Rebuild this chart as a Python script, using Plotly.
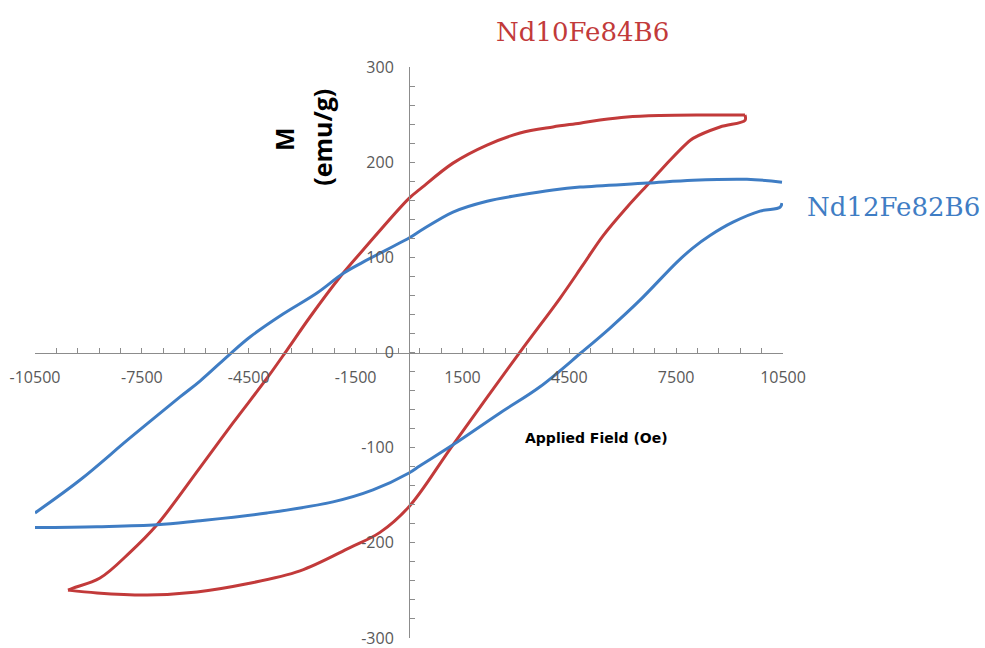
import plotly.graph_objects as go

# Nd10Fe84B6 hysteresis loop: field sweep down (upper branch) then back up (lower branch)
red_down_field = [9433, 8170, 7047, 6120, 5362, 4801, 4043, 3116, 2190, 1235, 309, 0,
                  -1291, -1937, -2779, -3425, -3987, -4941, -5868, -7075, -7833, -8675,
                  -9433, -9573]
red_down_m = [249.5, 249.5, 249, 247.5, 244.3, 241, 237, 230.6, 218, 199, 171.6, 162,
              107.7, 79.3, 37.3, 2.6, -27, -74, -121, -181, -210, -237,
              -247.6, -249.7]
red_up_field = [-9573, -8759, -7355, -5952, -4548, -3060, -1656, -814, 0, 1235,
                3116, 4239, 4885, 5446, 6120, 6766, 7327, 7805, 7973, 8731, 9433, 9433]
red_up_m = [-249.7, -252.6, -254.7, -251.6, -243, -229.5, -205, -189, -162, -97,
            0.5, 57, 92, 122.6, 152.7, 179, 202, 220, 225, 237, 244, 249.5]

# Nd12Fe82B6 hysteresis loop
blue_down_field = [10472, 9489, 7973, 6682, 4801, 4043, 3116, 2190, 1235, 309, 0,
                   -1291, -1853, -2583, -3537, -4464, -5025, -5868, -6429, -7833,
                   -9236, -10500]
blue_down_m = [179, 182, 181, 178, 173.8, 170.7, 165.4, 159, 147.6, 127.6, 120.3,
               95, 83, 62.5, 40.4, 16.3, -1.6, -30, -46.7, -89.8, -134, -168.6]
blue_up_field = [-10500, -8759, -7075, -5952, -3987, -2134, -1011, 0, 309, 1235,
                 2555, 3678, 4857, 5643, 6485, 7524, 7973, 8450, 9096, 9854, 10416,
                 10472]
blue_up_m = [-184, -183, -181, -177, -168.6, -157, -144.4, -126.6, -119, -97,
             -63.5, -36, 0.5, 25.7, 55, 95, 110, 123, 137, 148.6, 152.6, 157]

# Axis ticks
x_tick_vals = list(range(-10500, 10501, 600))
x_tick_text = [str(v) if (v + 10500) % 3000 == 0 else "" for v in x_tick_vals]
y_tick_vals = list(range(-300, 301, 20))
y_tick_text = [str(v) if v % 100 == 0 else "" for v in y_tick_vals]

RED = "#C23A3A"
BLUE = "#3F7DC4"
AXIS = "#8C8C8C"
TICK_FONT = dict(family="Open Sans", size=16, color="#595959")

fig = go.Figure()
branches = [
    (red_down_field, red_down_m, RED),
    (red_up_field, red_up_m, RED),
    (blue_down_field, blue_down_m, BLUE),
    (blue_up_field, blue_up_m, BLUE),
]
for fx, my, color in branches:
    fig.add_trace(go.Scatter(
        x=fx, y=my, mode="lines",
        line=dict(color=color, width=3, shape="spline", smoothing=1.0),
        showlegend=False,
    ))

axis_common = dict(
    showline=True, linecolor=AXIS, linewidth=1,
    ticks="inside", ticklen=5, tickcolor=AXIS, tickwidth=1,
    showgrid=False, zeroline=False, anchor="free", position=0.5,
    tickfont=TICK_FONT, tickmode="array", ticklabeloverflow="allow",
    automargin=False,
)
fig.update_xaxes(range=[-10500, 10500], tickvals=x_tick_vals, ticktext=x_tick_text,
                 ticklabelstandoff=10, **axis_common)
fig.update_yaxes(range=[-300, 300], tickvals=y_tick_vals, ticktext=y_tick_text,
                 ticklabelstandoff=12, **axis_common)

annotations = [
    dict(text="Nd10Fe84B6", x=0.7326, y=1.061,
         font=dict(family="DejaVu Serif", size=26, color=RED)),
    dict(text="Nd12Fe82B6", x=1.148, y=0.755,
         font=dict(family="DejaVu Serif", size=26, color=BLUE)),
    dict(text="<b>M</b>", x=0.333, y=0.874, textangle=-90,
         font=dict(family="Open Sans", size=25, color="black")),
    dict(text="<b>(emu/g)</b>", x=0.3837, y=0.876, textangle=-90,
         font=dict(family="Open Sans", size=25, color="black")),
    dict(text="<b>Applied Field (Oe)</b>", x=0.75, y=0.350,
         font=dict(family="DejaVu Sans", size=14, color="black")),
]
for a in annotations:
    fig.add_annotation(xref="paper", yref="paper", showarrow=False,
                       xanchor="center", yanchor="middle", **a)

fig.update_layout(
    width=985, height=648,
    margin=dict(l=35, r=202, t=67, b=10, autoexpand=False),
    paper_bgcolor="white", plot_bgcolor="white",
)

fig.write_html("out.html")
